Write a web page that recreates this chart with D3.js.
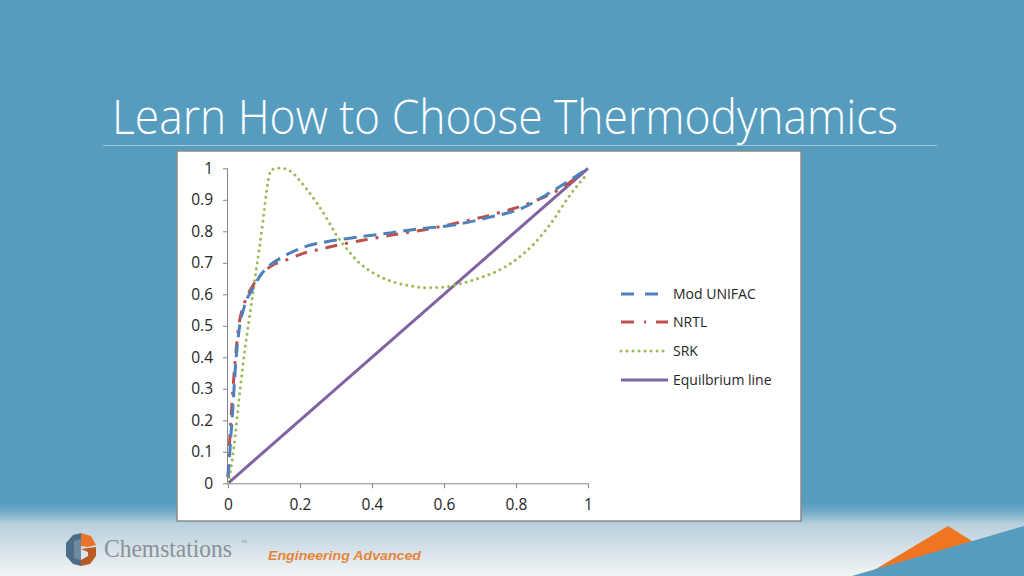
<!DOCTYPE html>
<html><head><meta charset="utf-8">
<script src="https://cdn.jsdelivr.net/npm/d3@7"></script>
<style>html,body{margin:0;padding:0;background:#559CBF;overflow:hidden}svg{display:block}</style>
</head><body>
<svg id="c" width="1024" height="576"></svg>
<script>
// ---- data ----
const titleText = "Learn How to Choose Thermodynamics";
const seriesNames = ["Mod UNIFAC", "NRTL", "SRK", "Equilbrium line"];
const xTicks = [0, 0.2, 0.4, 0.6, 0.8, 1];
const yTicks = [0, 0.1, 0.2, 0.3, 0.4, 0.5, 0.6, 0.7, 0.8, 0.9, 1];
const xTickLabels = ["0", "0.2", "0.4", "0.6", "0.8", "1"];
const yTickLabels = ["0", "0.1", "0.2", "0.3", "0.4", "0.5", "0.6", "0.7", "0.8", "0.9", "1"];

const modUnifacX = [0, 0.004, 0.008, 0.013, 0.02, 0.03, 0.045, 0.07, 0.09, 0.112, 0.154, 0.209, 0.274, 0.357, 0.45, 0.534, 0.627, 0.728, 0.81, 0.905, 1];
const modUnifacY = [0.02, 0.08, 0.15, 0.23, 0.36, 0.48, 0.56, 0.62, 0.66, 0.688, 0.72, 0.749, 0.767, 0.781, 0.795, 0.808, 0.82, 0.845, 0.87, 0.93, 1];

const nrtlX = [0, 0.003, 0.006, 0.012, 0.02, 0.03, 0.045, 0.065, 0.09, 0.12, 0.163, 0.209, 0.256, 0.3, 0.367, 0.45, 0.55, 0.65, 0.75, 0.85, 0.93, 1];
const nrtlY = [0.02, 0.1, 0.16, 0.27, 0.39, 0.5, 0.57, 0.62, 0.66, 0.69, 0.709, 0.73, 0.743, 0.755, 0.77, 0.787, 0.806, 0.83, 0.858, 0.895, 0.94, 1];

const srkX = [0, 0.01, 0.02, 0.03, 0.04, 0.05, 0.06, 0.07, 0.08, 0.09, 0.1, 0.11, 0.12, 0.14, 0.16, 0.18, 0.2, 0.22, 0.25, 0.28, 0.3, 0.33, 0.36, 0.4, 0.45, 0.5, 0.55, 0.6, 0.65, 0.7, 0.75, 0.8, 0.85, 0.9, 0.95, 1];
const srkY = [0, 0.06, 0.15, 0.26, 0.36, 0.45, 0.53, 0.61, 0.69, 0.77, 0.86, 0.95, 0.995, 1.0, 0.998, 0.985, 0.96, 0.932, 0.885, 0.83, 0.79, 0.745, 0.705, 0.67, 0.643, 0.628, 0.621, 0.623, 0.635, 0.652, 0.675, 0.71, 0.76, 0.83, 0.915, 0.985];

const eqX = [0, 1];
const eqY = [0, 1];

// ---- layout ----
const svg = d3.select("#c");
const defs = svg.append("defs");
const g1 = defs.append("linearGradient").attr("id","bot").attr("x1",0).attr("y1",0).attr("x2",0).attr("y2",1);
g1.append("stop").attr("offset","0").attr("stop-color","#559CBF");
g1.append("stop").attr("offset","0.12").attr("stop-color","#6ea9c6");
g1.append("stop").attr("offset","0.3").attr("stop-color","#b9d0dc");
g1.append("stop").attr("offset","1").attr("stop-color","#f3f5f6");

svg.append("rect").attr("width",1024).attr("height",576).attr("fill","#559CBF");
svg.append("rect").attr("x",0).attr("y",502).attr("width",1024).attr("height",74).attr("fill","url(#bot)");

// title
svg.append("text").attr("x",112).attr("y",134).attr("fill","#ffffff")
  .attr("font-family","'Open Sans', sans-serif").attr("font-weight",300)
  .attr("font-size",47).attr("textLength",786).attr("lengthAdjust","spacingAndGlyphs")
  .text(titleText);
svg.append("line").attr("x1",103).attr("x2",937).attr("y1",145.5).attr("y2",145.5)
  .attr("stroke","#a7cbdd").attr("stroke-width",1);

// chart box
svg.append("rect").attr("x",177).attr("y",151).attr("width",624).attr("height",370)
  .attr("fill","#ffffff").attr("stroke","#8a8a8a").attr("stroke-width",1.5);

const x = d3.scaleLinear().domain([0,1]).range([228,588]);
const y = d3.scaleLinear().domain([0,1]).range([483.3,168.3]);

const axisColor = "#868686";
const fontTick = "'Open Sans', sans-serif";
const yAx = svg.append("g").attr("transform","translate(228,0)")
  .call(d3.axisLeft(y).tickValues(yTicks).tickSize(5).tickPadding(10).tickFormat((d,i)=>yTickLabels[i]));
const xAx = svg.append("g").attr("transform","translate(0,483.3)")
  .call(d3.axisBottom(x).tickValues(xTicks).tickSize(5).tickPadding(11).tickFormat((d,i)=>xTickLabels[i]));
[yAx,xAx].forEach(a=>{
  a.selectAll("path,line").attr("stroke",axisColor).attr("stroke-width",1);
  a.selectAll("text").attr("fill","#262626").attr("font-family",fontTick).attr("font-size",15.5);
});
xAx.select(".domain").attr("d","M228,0.5H588");
yAx.select(".domain").attr("d","M-0.5,168.3V483.3");

// series
const styles = [
  {color:"#4F81BD", dash:"13,7", cap:"butt"},
  {color:"#C0504D", dash:"12,8,3,8", cap:"butt"},
  {color:"#9BBB59", dash:"0.01,6", cap:"round"},
  {color:"#8064A2", dash:null, cap:"butt"}
];
const seriesData = [
  d3.zip(modUnifacX, modUnifacY),
  d3.zip(nrtlX, nrtlY),
  d3.zip(srkX, srkY),
  d3.zip(eqX, eqY)
];
const line = d3.line().x(d=>x(d[0])).y(d=>y(d[1])).curve(d3.curveMonotoneX);
const drawOrder = [3,2,1,0];
drawOrder.forEach(i=>{
  svg.append("path").attr("d",line(seriesData[i])).attr("fill","none")
    .attr("stroke",styles[i].color).attr("stroke-width",3)
    .attr("stroke-dasharray",styles[i].dash).attr("stroke-linecap",styles[i].cap);
});

// legend
const legY = [294, 322, 351, 380];
const lg = svg.append("g");
seriesNames.forEach((n,i)=>{
  lg.append("line").attr("x1",621).attr("x2",668).attr("y1",legY[i]).attr("y2",legY[i])
    .attr("stroke",styles[i].color).attr("stroke-width",3)
    .attr("stroke-dasharray", i===0?"13,11": i===1?"13,10,2,10": i===2?"0.01,6":null)
    .attr("stroke-linecap",styles[i].cap);
  lg.append("text").attr("x",673).attr("y",legY[i]+5).attr("fill","#262626")
    .attr("font-family",fontTick).attr("font-size",14).text(n);
});

// footer logo
const logo = svg.append("g");
logo.append("polygon").attr("points","73,535 81,533 81,566 73,564 66,556 66,543").attr("fill","#4d6d86");
logo.append("polygon").attr("points","81,533 91,536 96,545 88,547 81,546").attr("fill","#e8742a");
logo.append("polygon").attr("points","81,549 96,547 96,556 90,564 81,566 81,560 88,556 88,552").attr("fill","#b85a22");
logo.append("polygon").attr("points","74,541 81,539 81,560 74,558").attr("fill","#6f8aa0");
logo.append("text").attr("x",104).attr("y",557).attr("fill","#8a9096")
  .attr("font-family","'Liberation Serif', serif").attr("font-size",25)
  .attr("textLength",128).attr("lengthAdjust","spacingAndGlyphs").text("Chemstations");
logo.append("text").attr("x",241).attr("y",543).attr("fill","#8a9096")
  .attr("font-family","'Liberation Sans', sans-serif").attr("font-size",4).text("TM");
svg.append("text").attr("x",268).attr("y",560).attr("fill","#e8843a")
  .attr("font-family","'Liberation Sans', sans-serif").attr("font-weight","bold").attr("font-style","italic")
  .attr("font-size",13).attr("textLength",153).attr("lengthAdjust","spacingAndGlyphs").text("Engineering Advanced");

// corner shapes
svg.append("polygon").attr("points","864,576 948,526 972,541 900,576").attr("fill","#EE7623");
svg.append("polygon").attr("points","852,576 1024,526 1024,576").attr("fill","#559CBF");
</script>
</body></html>
